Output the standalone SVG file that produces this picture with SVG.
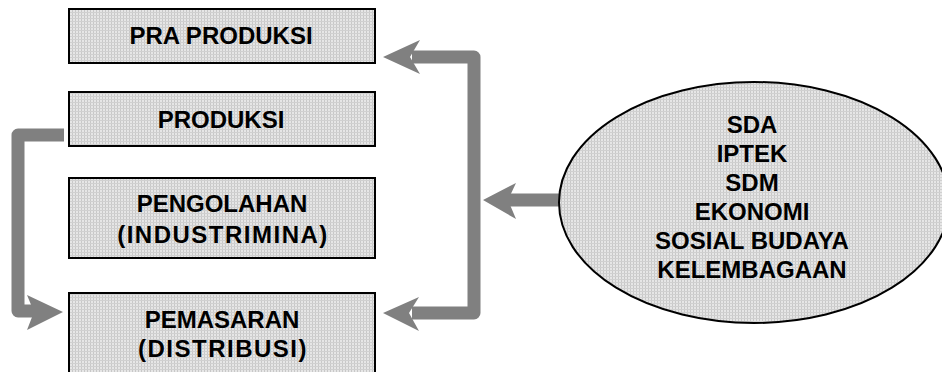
<svg xmlns="http://www.w3.org/2000/svg" width="942" height="372" viewBox="0 0 942 372">
<defs>
<pattern id="dots" width="3" height="3" patternUnits="userSpaceOnUse">
<rect width="3" height="3" fill="#e6e6e6"/>
<rect width="1" height="3" fill="#c8c8c8"/>
<rect width="3" height="1" fill="#d0d0d0"/>
</pattern>
<style>
.box{fill:url(#dots);stroke:#000;stroke-width:2}
.t{font-family:"Liberation Sans",Arial,sans-serif;font-weight:bold;font-size:24px;fill:#000;text-anchor:middle}
.conn{fill:none;stroke:#808080;stroke-width:13;stroke-linejoin:round}
.head{fill:#808080}
</style>
</defs>
<rect width="942" height="372" fill="#fff"/>
<g id="connectors">
<path class="conn" d="M412 57 H474 V313 H412"/>
<polygon class="head" points="383,57 420,40 410,57 420,74"/>
<polygon class="head" points="383,313 419,297 409,313 419,331"/>
<path class="conn" d="M559 200 H508"/>
<polygon class="head" points="483,200 516,183 508,200 516,219"/>
<path class="conn" d="M64 135 H18 V311 H34"/>
<polygon class="head" points="63,312 27,295 34,312 27,330"/>
</g>
<g id="pra-produksi">
<rect class="box" x="69" y="9" width="306" height="54"/>
<text class="t" x="221" y="44">PRA PRODUKSI</text>
</g>
<g id="produksi">
<rect class="box" x="69" y="92" width="306" height="54"/>
<text class="t" x="221" y="128">PRODUKSI</text>
</g>
<g id="pengolahan">
<rect class="box" x="69" y="178" width="306" height="80"/>
<text class="t" x="222" y="212">PENGOLAHAN</text>
<text class="t" x="223" y="243" letter-spacing="1.5">(INDUSTRIMINA)</text>
</g>
<g id="pemasaran">
<rect class="box" x="69" y="293" width="306" height="90"/>
<text class="t" x="222" y="328">PEMASARAN</text>
<text class="t" x="223" y="357" letter-spacing="1.5">(DISTRIBUSI)</text>
</g>
<g id="faktor">
<ellipse class="box" cx="754" cy="202.5" rx="195" ry="120.5"/>
<text class="t" x="752" y="133">SDA</text>
<text class="t" x="752" y="162">IPTEK</text>
<text class="t" x="752" y="191">SDM</text>
<text class="t" x="752" y="220">EKONOMI</text>
<text class="t" x="752" y="249">SOSIAL BUDAYA</text>
<text class="t" x="752" y="278">KELEMBAGAAN</text>
</g>
</svg>
